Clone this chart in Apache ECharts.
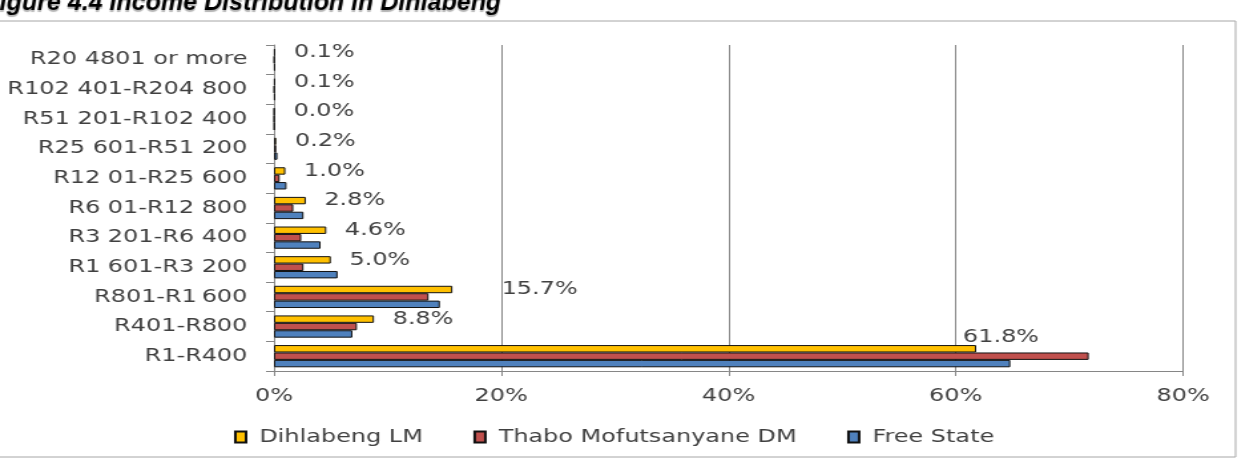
<!DOCTYPE html>
<html>
<head>
<meta charset="utf-8">
<title>Income Distribution in Dihlabeng</title>
<script src="https://cdn.jsdelivr.net/npm/echarts@6/dist/echarts.min.js"></script>
<style>
  html, body { margin: 0; padding: 0; background: #fff; overflow: hidden; }
  /* the source picture is a chart stretched sideways, so draw narrow and stretch */
  #chart { width: 940px; height: 459px; transform: scaleX(1.33); transform-origin: 0 0; }
</style>
</head>
<body>
<div id="chart"></div>
<script>
  const STRETCH = 1.33;

  const categories = [
    'R1-R400',
    'R401-R800',
    'R801-R1\u2009600',
    'R1 601-R3 200',
    'R3 201-R6 400',
    'R6 01-R12 800',
    'R12 01-R25 600',
    'R25 601-R51 200',
    'R51 201-R102 400',
    'R102 401-R204 800',
    'R20 4801 or more'
  ];

  const seriesNames = ['Dihlabeng LM', 'Thabo Mofutsanyane DM', 'Free State'];

  // percentages, in the order of categories
  const dihlabeng = [61.8, 8.8, 15.7, 5.0, 4.6, 2.8, 1.0, 0.2, 0.04, 0.1, 0.1];
  const thabo = [71.7, 7.3, 13.6, 2.6, 2.4, 1.7, 0.5, 0.2, 0.03, 0.05, 0.05];
  const freeState = [64.8, 6.9, 14.6, 5.6, 4.1, 2.6, 1.1, 0.3, 0.05, 0.1, 0.1];

  const xTicks = [0, 20, 40, 60, 80];

  const colors = ['#FFC000', '#C0504D', '#4F81BD'];
  const textColor = '#404040';
  const lineColor = '#868686';
  const fontSize = 18;

  const chart = echarts.init(document.getElementById('chart'));

  // labels only on the Dihlabeng bars, two of them moved like in the source
  const dihlabengData = dihlabeng.map((v, i) => {
    const item = { value: v };
    if (i === 0) item.label = { distance: 0, offset: [-10, -11] };
    if (i === 2) item.label = { distance: 37 };
    return item;
  });

  const barStyle = (c) => ({ color: c, borderColor: '#111', borderWidth: 1 });

  chart.setOption({
    animation: false,
    textStyle: { fontFamily: 'DejaVu Sans' },
    graphic: [
      {
        type: 'rect',
        shape: { x: -2, y: 21, width: 931, height: 436 },
        style: { fill: 'none', stroke: '#a6a6a6', lineWidth: 1 },
        silent: true
      },
      {
        type: 'text',
        x: -15.5 / STRETCH,
        y: 16,
        scaleX: 1 / STRETCH,
        style: {
          text: 'Figure 4.4 Income Distribution in Dihlabeng',
          fontFamily: 'Liberation Sans',
          fontSize: 25,
          fontWeight: 'bold',
          fontStyle: 'italic',
          fill: '#000',
          verticalAlign: 'bottom',
          lineHeight: 25,
          textShadowColor: 'rgba(0,0,0,0.3)',
          textShadowOffsetY: 1.5,
          textShadowBlur: 1
        },
        silent: true
      }
    ],
    grid: { left: 206, right: 50.5, top: 45, bottom: 88 },
    legend: {
      data: seriesNames,
      left: 171,
      top: 423,
      itemWidth: 8,
      itemHeight: 11,
      itemGap: 38,
      icon: 'rect',
      textStyle: { color: textColor, fontSize: fontSize, padding: [0, 0, 0, 5] }
    },
    xAxis: {
      type: 'value',
      min: xTicks[0],
      max: xTicks[xTicks.length - 1],
      interval: 20,
      axisLine: { show: true, lineStyle: { color: lineColor } },
      axisTick: { show: true, length: 5, lineStyle: { color: lineColor } },
      axisLabel: { formatter: '{value}%', color: textColor, fontSize: fontSize, margin: 16 },
      splitLine: { show: true, lineStyle: { color: lineColor, width: 1 } }
    },
    yAxis: {
      type: 'category',
      data: categories,
      axisLine: { show: true, lineStyle: { color: lineColor } },
      axisTick: { show: true, length: 6, lineStyle: { color: lineColor } },
      axisLabel: { color: textColor, fontSize: fontSize, margin: 20 },
      splitLine: { show: false }
    },
    series: [
      {
        name: seriesNames[0],
        type: 'bar',
        data: dihlabengData,
        barGap: '0%',
        barCategoryGap: '25%',
        itemStyle: barStyle(colors[0]),
        label: {
          show: true,
          position: 'right',
          distance: 14,
          color: textColor,
          fontSize: fontSize,
          formatter: (p) => p.value.toFixed(1) + '%'
        }
      },
      {
        name: seriesNames[1],
        type: 'bar',
        data: thabo,
        barGap: '0%',
        barCategoryGap: '25%',
        itemStyle: barStyle(colors[1])
      },
      {
        name: seriesNames[2],
        type: 'bar',
        data: freeState,
        barGap: '0%',
        barCategoryGap: '25%',
        itemStyle: barStyle(colors[2])
      }
    ]
  });
</script>
</body>
</html>
